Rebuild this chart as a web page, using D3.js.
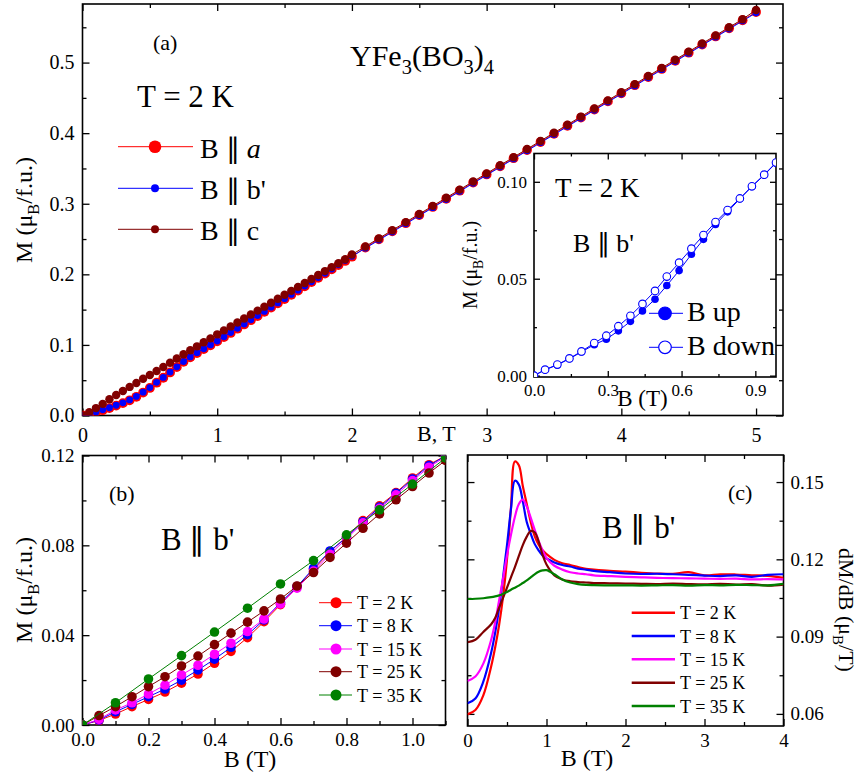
<!DOCTYPE html>
<html>
<head>
<meta charset="utf-8">
<script src="https://cdn.jsdelivr.net/npm/d3@7"></script>
<style>
  body { margin: 0; background: #fff; }
  svg { display: block; font-family: "Liberation Serif", "Times New Roman", serif; }
</style>
</head>
<body>
<div id="figura"></div>
<script>
// ---- Datos panel (a): M(B) a T = 2 K ----
const campoA = [0,0.05,0.1,0.15,0.2,0.25,0.3,0.35,0.4,0.45,0.5,0.55,0.6,0.65,0.7,0.75,0.8,0.85,0.9,0.95,1.0,
  1.05,1.1,1.15,1.2,1.25,1.3,1.35,1.4,1.45,1.5,1.55,1.6,1.65,1.7,1.75,1.8,1.85,1.9,1.95,2.0,
  2.1,2.2,2.3,2.4,2.5,2.6,2.7,2.8,2.9,3.0,3.1,3.2,3.3,3.4,3.5,3.6,3.7,3.8,3.9,4.0,4.1,4.2,4.3,4.4,4.5,4.6,4.7,4.8,4.9,5.0];
const mEjeA = [0,0.0015,0.0045,0.0075,0.0105,0.014,0.0175,0.0215,0.0265,0.0325,0.039,0.0465,0.0535,0.061,0.0685,0.076,0.0825,0.0885,0.094,0.0995,0.105,
  0.111,0.117,0.123,0.129,0.135,0.141,0.147,0.153,0.159,0.165,0.171,0.177,0.183,0.189,0.195,0.201,0.207,0.213,0.219,0.225,
  0.238,0.2495,0.261,0.2725,0.284,0.2955,0.307,0.3185,0.33,0.3415,0.353,0.3645,0.376,0.3875,0.399,0.4105,0.422,0.4335,0.445,0.4565,0.468,0.4795,0.491,0.5025,0.514,0.5255,0.537,0.5485,0.56,0.5715];
const mEjeB = [0,0.002,0.005,0.008,0.011,0.0145,0.018,0.022,0.027,0.033,0.0395,0.047,0.054,0.0615,0.069,0.0765,0.083,0.089,0.0945,0.1,0.1055,
  0.1115,0.1175,0.1235,0.1295,0.1355,0.1415,0.1475,0.1535,0.1595,0.1655,0.1715,0.1775,0.1835,0.1895,0.1955,0.2015,0.2075,0.2135,0.2195,0.2255,
  0.237,0.2485,0.26,0.2715,0.283,0.2945,0.306,0.3175,0.329,0.3405,0.352,0.3635,0.375,0.3865,0.398,0.4095,0.421,0.4325,0.444,0.4555,0.467,0.4785,0.49,0.5015,0.513,0.5245,0.536,0.5475,0.559,0.5705];
const mEjeC = [0,0.0045,0.0105,0.0165,0.023,0.029,0.0347,0.0405,0.046,0.052,0.0574,0.063,0.0688,0.0748,0.0808,0.0868,0.0925,0.098,0.1037,0.1093,0.115,
  0.1206,0.1262,0.1318,0.1374,0.143,0.1486,0.1542,0.1598,0.1654,0.171,0.1766,0.1822,0.1878,0.1934,0.199,0.2046,0.2102,0.2158,0.2214,0.228,
  0.2395,0.251,0.2625,0.274,0.2855,0.297,0.3085,0.32,0.3315,0.343,0.3545,0.366,0.3775,0.389,0.4005,0.412,0.4235,0.435,0.4465,0.458,0.4695,0.481,0.4925,0.504,0.5155,0.527,0.5385,0.55,0.5615,0.5745];

// ---- Inset: subida y bajada de campo, B || b' ----
const campoInset = [0,0.045,0.095,0.144,0.193,0.245,0.294,0.343,0.392,0.441,0.492,0.540,0.590,0.640,0.689,0.738,0.787,0.837,0.886,0.936,0.984];
const mSubida = [0,0.003,0.0055,0.0087,0.0122,0.016,0.0188,0.0231,0.028,0.0334,0.0394,0.0465,0.0542,0.0626,0.0703,0.078,0.0845,0.0912,0.0975,0.1035,0.1097];
const mBajada = [0,0.0031,0.0057,0.0089,0.0125,0.0168,0.0206,0.0255,0.0309,0.037,0.0437,0.0511,0.0583,0.0655,0.0725,0.0792,0.0854,0.0914,0.0977,0.1037,0.1099];

// ---- Panel (b): M(B) a varias temperaturas ----
const campoB = [0,0.05,0.1,0.15,0.2,0.25,0.3,0.35,0.4,0.45,0.5,0.55,0.6,0.65,0.7,0.75,0.8,0.85,0.9,0.95,1.0,1.05,1.1];
const campoB35 = [0,0.1,0.2,0.3,0.4,0.5,0.6,0.7,0.8,0.9,1.0,1.1];
const mT2 = [0,0.002,0.0049,0.0082,0.0114,0.0147,0.0186,0.0227,0.0275,0.0328,0.0389,0.046,0.0536,0.0616,0.0692,0.0772,0.0838,0.091,0.0976,0.1035,0.110,0.1159,0.1199];
const mT8 = [0,0.0022,0.0059,0.0092,0.0126,0.016,0.02,0.0245,0.0293,0.0346,0.0402,0.0468,0.0545,0.0616,0.0698,0.0775,0.0835,0.0905,0.097,0.1032,0.1095,0.1155,0.1198];
const mT15 = [0,0.0025,0.0067,0.0099,0.0138,0.0178,0.0223,0.0266,0.0315,0.0364,0.0416,0.0472,0.0539,0.0609,0.0685,0.076,0.083,0.09,0.0965,0.1025,0.1088,0.1148,0.1195];
const mT25 = [0,0.0042,0.0082,0.0126,0.0171,0.0215,0.0263,0.0307,0.0358,0.0409,0.0458,0.0508,0.0561,0.0619,0.0679,0.0746,0.081,0.0876,0.094,0.1003,0.1062,0.1122,0.1178];
const mT35 = [0,0.0099,0.0205,0.0309,0.0414,0.052,0.0628,0.0732,0.0847,0.0958,0.1073,0.1189];

// ---- Panel (c): dM/dB ----
const campoC = [0,0.1,0.2,0.3,0.35,0.4,0.45,0.5,0.55,0.6,0.65,0.7,0.75,0.8,0.85,0.9,0.95,1.0,1.1,1.2,1.3,1.4,1.5,1.6,1.8,2.0,2.2,2.4,2.6,2.8,3.0,3.2,3.4,3.6,3.8,4.0];
const dT2 = [0.0598,0.0615,0.0672,0.0785,0.0858,0.0945,0.1055,0.12,0.14,0.158,0.1565,0.1485,0.1415,0.1345,0.129,0.1257,0.1235,0.122,0.1198,0.1185,0.1178,0.117,0.1163,0.116,0.1155,0.1152,0.1148,0.1145,0.1144,0.115,0.1138,0.1142,0.1141,0.1138,0.1136,0.1128];
const dT8 = [0.0641,0.066,0.0725,0.0838,0.0915,0.101,0.113,0.1255,0.1395,0.1505,0.149,0.1425,0.1345,0.13,0.126,0.1235,0.1215,0.1203,0.1188,0.1178,0.1172,0.1164,0.116,0.1155,0.115,0.1145,0.1143,0.1144,0.1142,0.114,0.1137,0.1135,0.1138,0.1132,0.114,0.1142];
const dT15 = [0.0728,0.0745,0.0795,0.0888,0.0955,0.104,0.1125,0.1215,0.1295,0.1365,0.1415,0.1432,0.1405,0.1362,0.1315,0.1272,0.1235,0.1205,0.1175,0.116,0.115,0.1145,0.1142,0.1138,0.1135,0.1132,0.113,0.1128,0.1127,0.1126,0.1125,0.1124,0.1125,0.1122,0.1123,0.1122];
const dT25 = [0.0878,0.0888,0.0918,0.0948,0.0972,0.1012,0.105,0.109,0.113,0.117,0.1213,0.1255,0.1288,0.131,0.1305,0.127,0.1218,0.118,0.1138,0.1122,0.1115,0.1112,0.111,0.1108,0.1107,0.1106,0.1105,0.1104,0.1106,0.1104,0.1103,0.1105,0.1102,0.1104,0.1098,0.1102];
const dT35 = [0.1046,0.1047,0.1049,0.1053,0.1056,0.106,0.1066,0.1073,0.1082,0.109,0.1098,0.1108,0.1118,0.113,0.1142,0.1152,0.1157,0.1158,0.1142,0.1122,0.111,0.1104,0.1101,0.11,0.1099,0.1099,0.1098,0.1099,0.11,0.1098,0.11,0.1099,0.1101,0.11,0.1099,0.1105];

const etiquetasT = ['T = 2 K', 'T = 8 K', 'T = 15 K', 'T = 25 K', 'T = 35 K'];
const coloresT = ['#ff0000', '#0000ff', '#ff00ff', '#800000', '#008000'];

// ---- Lienzo ----
const svg = d3.select('#figura').append('svg').attr('width', 863).attr('height', 780);
const defs = svg.append('defs');

// Texto con subíndices: partes = [[texto, esSub], ...]
function textoSub(sel, partes, fs) {
  let bajado = false;
  partes.forEach(([t, sub]) => {
    const ts = sel.append('tspan').text(t);
    if (sub && !bajado) { ts.attr('font-size', fs * 0.68).attr('dy', fs * 0.28); bajado = true; }
    else if (!sub && bajado) { ts.attr('dy', -fs * 0.28); bajado = false; }
    else if (sub) ts.attr('font-size', fs * 0.68);
  });
  return sel;
}

// Marco con ticks hacia dentro en los cuatro lados
function dibujarEjes(g, x, y, c) {
  const [x0, x1] = x.range();
  const [y1, y0] = y.range();
  const fs = c.fs || 19;
  const may = c.may || 7, men = c.men || 4;
  const ajustar = s => s.attr('font-size', fs).attr('font-family', null).call(s => s.select('.domain').remove())
    .selectAll('line').attr('stroke-width', 1.3);

  g.append('g').attr('transform', `translate(0,${y1})`)
    .call(d3.axisBottom(x).tickValues(c.xMay).tickSize(-may).tickPadding(c.padX).tickFormat(c.xEtiq ? c.xFmt : ''))
    .call(ajustar);
  g.append('g').attr('transform', `translate(0,${y1})`)
    .call(d3.axisBottom(x).tickValues(c.xMen).tickSize(-men).tickFormat('')).call(ajustar);
  g.append('g').attr('transform', `translate(0,${y0})`)
    .call(d3.axisTop(x).tickValues(c.xMay).tickSize(-may).tickFormat('')).call(ajustar);
  g.append('g').attr('transform', `translate(0,${y0})`)
    .call(d3.axisTop(x).tickValues(c.xMen).tickSize(-men).tickFormat('')).call(ajustar);

  const izq = c.ladoY !== 'right';
  g.append('g').attr('transform', `translate(${x0},0)`)
    .call(d3.axisLeft(y).tickValues(c.yMay).tickSize(-may).tickPadding(c.padY).tickFormat(izq ? c.yFmt : ''))
    .call(ajustar);
  g.append('g').attr('transform', `translate(${x0},0)`)
    .call(d3.axisLeft(y).tickValues(c.yMen).tickSize(-men).tickFormat('')).call(ajustar);
  g.append('g').attr('transform', `translate(${x1},0)`)
    .call(d3.axisRight(y).tickValues(c.yMay).tickSize(-may).tickPadding(c.padY).tickFormat(izq ? '' : c.yFmt))
    .call(ajustar);
  g.append('g').attr('transform', `translate(${x1},0)`)
    .call(d3.axisRight(y).tickValues(c.yMen).tickSize(-men).tickFormat('')).call(ajustar);

  g.append('rect').attr('x', x0).attr('y', y0).attr('width', x1 - x0).attr('height', y1 - y0)
    .attr('fill', 'none').attr('stroke', '#000').attr('stroke-width', 1.6);
}

function recorte(id, x, y) {
  const [x0, x1] = x.range();
  const [y1, y0] = y.range();
  defs.append('clipPath').attr('id', id).append('rect')
    .attr('x', x0).attr('y', y0).attr('width', x1 - x0).attr('height', y1 - y0);
  return `url(#${id})`;
}

// Serie con línea fina y marcadores
function serie(g, x, y, bs, ms, color, r, opts = {}) {
  const pts = bs.map((b, i) => [b, ms[i]]);
  g.append('path').datum(pts)
    .attr('d', d3.line().x(d => x(d[0])).y(d => y(d[1])))
    .attr('fill', 'none').attr('stroke', color).attr('stroke-width', opts.ancho || 1);
  g.selectAll(null).data(pts).enter().append('circle')
    .attr('cx', d => x(d[0])).attr('cy', d => y(d[1])).attr('r', r)
    .attr('fill', opts.hueco ? '#fff' : color)
    .attr('stroke', color).attr('stroke-width', opts.hueco ? 1.1 : 0);
}

// ================= Panel (a) =================
const xA = d3.scaleLinear().domain([0, 5.2]).range([82.5, 783]);
const yA = d3.scaleLinear().domain([0, 0.583]).range([415.5, 4]);
const gA = svg.append('g');
dibujarEjes(gA, xA, yA, {
  xMay: [0, 1, 2, 3, 4, 5], xMen: [0.5, 1.5, 2.5, 3.5, 4.5], xEtiq: true, xFmt: d3.format('d'), padX: 12,
  yMay: [0, 0.1, 0.2, 0.3, 0.4, 0.5], yMen: [0.05, 0.15, 0.25, 0.35, 0.45, 0.55], yFmt: d3.format('.1f'), padY: 8, fs: 20
});
const datosA = gA.append('g').attr('clip-path', recorte('clipA', xA, yA));
serie(datosA, xA, yA, campoA, mEjeA, '#ff0000', 4.9);
serie(datosA, xA, yA, campoA, mEjeB, '#0000ff', 3.4);
serie(datosA, xA, yA, campoA, mEjeC, '#800000', 4.2);

gA.append('text').attr('x', 153).attr('y', 50).attr('font-size', 22).text('(a)');
textoSub(gA.append('text').attr('x', 350).attr('y', 66).attr('font-size', 30),
  [['YFe', 0], ['3', 1], ['(BO', 0], ['3', 1], [')', 0], ['4', 1]], 30);
gA.append('text').attr('x', 137).attr('y', 107).attr('font-size', 31).text('T = 2 K');
gA.append('text').attr('x', 417).attr('y', 441).attr('font-size', 22).text('B, T');
textoSub(gA.append('text').attr('transform', 'translate(32,210) rotate(-90)').attr('text-anchor', 'middle').attr('font-size', 24),
  [['M (μ', 0], ['B', 1], ['/f.u.)', 0]], 24);

// Leyenda (a)
const leyendaA = [
  { t: 'B ∥ ', it: 'a', c: '#ff0000', r: 6.3, y: 146.7 },
  { t: "B ∥ b'", it: '', c: '#0000ff', r: 4, y: 188.3 },
  { t: 'B ∥ c', it: '', c: '#800000', r: 4, y: 229.3 }
];
leyendaA.forEach(d => {
  gA.append('line').attr('x1', 118).attr('x2', 193).attr('y1', d.y).attr('y2', d.y).attr('stroke', d.c).attr('stroke-width', 1);
  gA.append('circle').attr('cx', 155).attr('cy', d.y).attr('r', d.r).attr('fill', d.c);
  const t = gA.append('text').attr('x', 200).attr('y', d.y + 11).attr('font-size', 28).text(d.t);
  if (d.it) t.append('tspan').attr('font-style', 'italic').text(d.it);
});

// ================= Inset =================
const xI = d3.scaleLinear().domain([0, 0.984]).range([534, 776]);
const yI = d3.scaleLinear().domain([-0.0007, 0.1146]).range([377, 153.5]);
const gI = svg.append('g');
gI.append('rect').attr('x', 534).attr('y', 153.5).attr('width', 242).attr('height', 223.5).attr('fill', '#fff');
dibujarEjes(gI, xI, yI, {
  xMay: [0, 0.3, 0.6, 0.9], xMen: [0.15, 0.45, 0.75], xEtiq: true, xFmt: d3.format('.1f'), padX: 7,
  yMay: [0, 0.05, 0.1], yMen: [0.025, 0.075], yFmt: d3.format('.2f'), padY: 7, fs: 17, may: 6, men: 3
});
const datosI = gI.append('g').attr('clip-path', recorte('clipI', xI, yI));
serie(datosI, xI, yI, campoInset, mSubida, '#0000ff', 3.8);
serie(datosI, xI, yI, campoInset, mBajada, '#0000ff', 3.8, { hueco: true });

gI.append('text').attr('x', 555).attr('y', 197).attr('font-size', 27).text('T = 2 K');
gI.append('text').attr('x', 573).attr('y', 252).attr('font-size', 26).text("B ∥ b'");
gI.append('text').attr('x', 642.5).attr('y', 406).attr('text-anchor', 'middle').attr('font-size', 23).text('B (T)');
textoSub(gI.append('text').attr('transform', 'translate(477,265) rotate(-90)').attr('text-anchor', 'middle').attr('font-size', 20),
  [['M (μ', 0], ['B', 1], ['/f.u.)', 0]], 20);
[{ t: 'B up', y: 313.3, hueco: false }, { t: 'B down', y: 347.3, hueco: true }].forEach(d => {
  gI.append('line').attr('x1', 649).attr('x2', 683).attr('y1', d.y).attr('y2', d.y).attr('stroke', '#0000ff').attr('stroke-width', 1);
  gI.append('circle').attr('cx', 665).attr('cy', d.y).attr('r', 6.3)
    .attr('fill', d.hueco ? '#fff' : '#0000ff').attr('stroke', '#0000ff').attr('stroke-width', 1.2);
  gI.append('text').attr('x', 687).attr('y', d.y + 8).attr('font-size', 28).text(d.t);
});

// ================= Panel (b) =================
const xB = d3.scaleLinear().domain([0, 1.1]).range([82.5, 445.5]);
const yB = d3.scaleLinear().domain([0, 0.12]).range([725, 455.5]);
const gB = svg.append('g');
dibujarEjes(gB, xB, yB, {
  xMay: [0, 0.2, 0.4, 0.6, 0.8, 1.0], xMen: [0.1, 0.3, 0.5, 0.7, 0.9, 1.1], xEtiq: true, xFmt: d3.format('.1f'), padX: 8,
  yMay: [0, 0.04, 0.08, 0.12], yMen: [0.02, 0.06, 0.1], yFmt: d3.format('.2f'), padY: 8, fs: 19
});
const datosB = gB.append('g').attr('clip-path', recorte('clipB', xB, yB));
const seriesB = [[campoB, mT2], [campoB, mT8], [campoB, mT15], [campoB, mT25], [campoB35, mT35]];
seriesB.forEach(([bs, ms], i) => serie(datosB, xB, yB, bs, ms, coloresT[i], 4.8));

gB.append('text').attr('x', 109).attr('y', 501).attr('font-size', 22).text('(b)');
gB.append('text').attr('x', 161).attr('y', 550).attr('font-size', 31).text("B ∥ b'");
gB.append('text').attr('x', 250).attr('y', 767).attr('text-anchor', 'middle').attr('font-size', 24).text('B (T)');
textoSub(gB.append('text').attr('transform', 'translate(32,590) rotate(-90)').attr('text-anchor', 'middle').attr('font-size', 24),
  [['M (μ', 0], ['B', 1], ['/f.u.)', 0]], 24);
const filasB = [602.7, 625.7, 649, 671.7, 695];
etiquetasT.forEach((t, i) => {
  gB.append('line').attr('x1', 319).attr('x2', 352).attr('y1', filasB[i]).attr('y2', filasB[i]).attr('stroke', coloresT[i]).attr('stroke-width', 1);
  gB.append('circle').attr('cx', 336).attr('cy', filasB[i]).attr('r', 5.5).attr('fill', coloresT[i]);
  gB.append('text').attr('x', 357).attr('y', filasB[i] + 6.5).attr('font-size', 18).text(t);
});

// ================= Panel (c) =================
const xC = d3.scaleLinear().domain([0, 4]).range([467.5, 783.5]);
const yC = d3.scaleLinear().domain([0.0553, 0.1605]).range([726, 455]);
const gC = svg.append('g');
dibujarEjes(gC, xC, yC, {
  xMay: [0, 1, 2, 3, 4], xMen: [0.5, 1.5, 2.5, 3.5], xEtiq: true, xFmt: d3.format('d'), padX: 8,
  yMay: [0.06, 0.09, 0.12, 0.15], yMen: [0.075, 0.105, 0.135], yFmt: d3.format('.2f'), padY: 7, fs: 19, ladoY: 'right'
});
const datosC = gC.append('g').attr('clip-path', recorte('clipC', xC, yC));
const lineaC = d3.line().x(d => xC(d[0])).y(d => yC(d[1])).curve(d3.curveCatmullRom);
[dT2, dT8, dT15, dT25, dT35].forEach((ds, i) => {
  datosC.append('path').datum(campoC.map((b, j) => [b, ds[j]]))
    .attr('d', lineaC).attr('fill', 'none').attr('stroke', coloresT[i]).attr('stroke-width', 2.2);
});

gC.append('text').attr('x', 728).attr('y', 500).attr('font-size', 22).text('(c)');
gC.append('text').attr('x', 602).attr('y', 538).attr('font-size', 31).text("B ∥ b'");
gC.append('text').attr('x', 587).attr('y', 766).attr('text-anchor', 'middle').attr('font-size', 24).text('B (T)');
textoSub(gC.append('text').attr('transform', 'translate(839,610) rotate(90)').attr('text-anchor', 'middle').attr('font-size', 22),
  [['dM/dB (μ', 0], ['B', 1], ['/T)', 0]], 22);
const filasC = [612.7, 636, 659.3, 682.7, 706];
etiquetasT.forEach((t, i) => {
  gC.append('line').attr('x1', 631.7).attr('x2', 675).attr('y1', filasC[i]).attr('y2', filasC[i]).attr('stroke', coloresT[i]).attr('stroke-width', 2.5);
  gC.append('text').attr('x', 680).attr('y', filasC[i] + 6.5).attr('font-size', 18).text(t);
});
</script>
</body>
</html>
